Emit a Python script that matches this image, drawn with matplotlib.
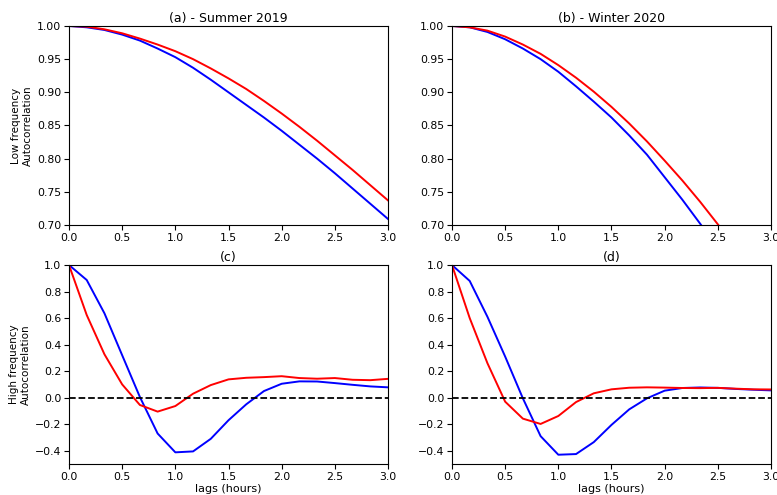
import matplotlib
matplotlib.use('Agg')
import matplotlib.pyplot as plt

# lags in hours (10 minute steps)
lags = [0.0, 1/6, 2/6, 0.5, 4/6, 5/6, 1.0, 7/6, 8/6, 1.5, 10/6, 11/6, 2.0,
        13/6, 14/6, 2.5, 16/6, 17/6, 3.0]

# low frequency autocorrelation
low_a_red = [1.000, 0.999, 0.995, 0.989, 0.981, 0.972, 0.962, 0.950, 0.936, 0.921,
             0.905, 0.887, 0.868, 0.848, 0.827, 0.805, 0.783, 0.760, 0.737]
low_a_blue = [1.000, 0.998, 0.994, 0.987, 0.978, 0.966, 0.953, 0.937, 0.919, 0.900,
              0.881, 0.862, 0.842, 0.821, 0.800, 0.778, 0.755, 0.732, 0.709]
low_b_red = [1.000, 0.998, 0.993, 0.984, 0.972, 0.958, 0.941, 0.922, 0.901, 0.878,
             0.853, 0.826, 0.797, 0.767, 0.735, 0.701, 0.667, 0.632, 0.596]
low_b_blue = [1.000, 0.998, 0.991, 0.980, 0.966, 0.950, 0.931, 0.909, 0.886, 0.862,
              0.835, 0.806, 0.772, 0.738, 0.702, 0.665, 0.628, 0.590, 0.552]

# high frequency autocorrelation
high_c_red = [1.000, 0.623, 0.327, 0.100, -0.055, -0.105, -0.063, 0.030, 0.095, 0.138,
              0.150, 0.155, 0.162, 0.148, 0.143, 0.148, 0.135, 0.132, 0.142]
high_c_blue = [1.000, 0.887, 0.636, 0.320, 0.005, -0.270, -0.412, -0.405, -0.310, -0.170,
               -0.050, 0.050, 0.105, 0.123, 0.122, 0.110, 0.097, 0.085, 0.078]
high_d_red = [1.000, 0.600, 0.260, -0.030, -0.158, -0.198, -0.138, -0.033, 0.033, 0.063,
              0.075, 0.078, 0.076, 0.073, 0.072, 0.074, 0.068, 0.063, 0.062]
high_d_blue = [1.000, 0.880, 0.610, 0.310, -0.005, -0.290, -0.430, -0.425, -0.335, -0.205,
               -0.088, -0.005, 0.053, 0.073, 0.077, 0.074, 0.066, 0.060, 0.055]

fig = plt.figure(figsize=(7.77, 4.95), dpi=100)
w = 0.4106
h = 0.402
ax_a = fig.add_axes([0.0888, 0.5455, w, h])
ax_b = fig.add_axes([0.5817, 0.5455, w, h])
ax_c = fig.add_axes([0.0888, 0.0626, w, h])
ax_d = fig.add_axes([0.5817, 0.0626, w, h])

lw = 1.4
ax_a.plot(lags, low_a_blue, color='blue', lw=lw)
ax_a.plot(lags, low_a_red, color='red', lw=lw)
ax_b.plot(lags, low_b_blue, color='blue', lw=lw)
ax_b.plot(lags, low_b_red, color='red', lw=lw)
ax_c.plot(lags, high_c_blue, color='blue', lw=lw)
ax_c.plot(lags, high_c_red, color='red', lw=lw)
ax_d.plot(lags, high_d_blue, color='blue', lw=lw)
ax_d.plot(lags, high_d_red, color='red', lw=lw)

for ax in [ax_a, ax_b]:
    ax.set_xlim(0, 3)
    ax.set_ylim(0.70, 1.00)
    ax.set_yticks([0.70, 0.75, 0.80, 0.85, 0.90, 0.95, 1.00])
    ax.set_yticklabels(['0.70', '0.75', '0.80', '0.85', '0.90', '0.95', '1.00'])

for ax in [ax_c, ax_d]:
    ax.axhline(0, color='black', ls='--', lw=1.3)
    ax.set_xlim(0, 3)
    ax.set_ylim(-0.5, 1.0)
    ax.set_yticks([-0.4, -0.2, 0.0, 0.2, 0.4, 0.6, 0.8, 1.0])
    ax.set_xlabel('lags (hours)', fontsize=8, labelpad=2)

for ax in [ax_a, ax_b, ax_c, ax_d]:
    ax.set_xticks([0.0, 0.5, 1.0, 1.5, 2.0, 2.5, 3.0])
    ax.tick_params(labelsize=7.8, length=3.5, pad=2)

ax_a.set_title('(a) - Summer 2019', fontsize=9, pad=3)
ax_b.set_title('(b) - Winter 2020', fontsize=9, pad=3)
ax_c.set_title('(c)', fontsize=9, pad=3)
ax_d.set_title('(d)', fontsize=9, pad=3)
ax_a.set_ylabel('Low frequency\nAutocorrelation', fontsize=7.5, labelpad=3)
ax_c.set_ylabel('High frequency\nAutocorrelation', fontsize=7.5, labelpad=3)

fig.savefig('out.png', dpi=100)
